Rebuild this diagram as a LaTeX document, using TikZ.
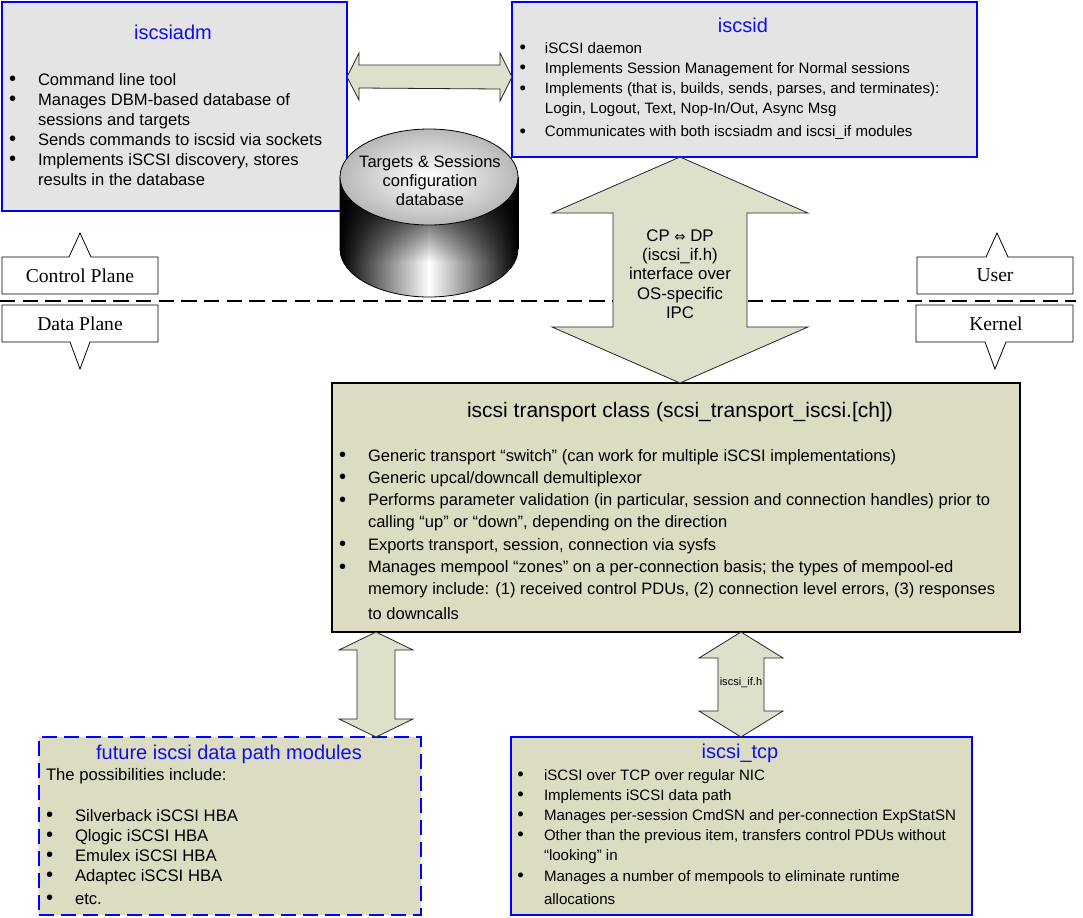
\documentclass[tikz,border=0pt]{standalone}
\usepackage{fontspec}
\setmainfont{Liberation Sans}
\newfontfamily\timesf{Liberation Serif}
\newfontfamily\djv{DejaVu Sans}
\usetikzlibrary{calc,fadings}
\definecolor{boxgray}{HTML}{E4E4E4}
\definecolor{olivefill}{HTML}{DCDCC2}
\definecolor{arrowfill}{HTML}{DDE0CB}
\definecolor{boxblue}{HTML}{0000FF}
\definecolor{titleblue}{HTML}{1010E6}
\tikzfading[name=bandfade, top color=transparent!15, bottom color=transparent!100]
\newlength\bw
\newcommand\B{\makebox[\bw][l]{\smash{\raisebox{-0.08ex}{\scalebox{1.22}{\textbullet}}}}}
\newcommand\vdarrow[5]{%
 \draw[blockarrow] (#1) -- ($(#1)+(#3,#5)$) -- ($(#1)+(#4,#5)$) -- ($(#2)+(#4,-#5)$) -- ($(#2)+(#3,-#5)$) -- (#2) -- ($(#2)+(-#3,-#5)$) -- ($(#2)+(-#4,-#5)$) -- ($(#1)+(-#4,#5)$) -- ($(#1)+(-#3,#5)$) -- cycle;}
\begin{document}
\begin{tikzpicture}[x=0.75pt,y=-0.75pt,
  graybox/.style={draw=boxblue, line width=1.4pt, fill=boxgray, anchor=north west, inner sep=0, outer sep=0},
  olivebox/.style={draw=black, line width=1.6pt, fill=olivefill, anchor=north west, inner sep=0, outer sep=0},
  futurebox/.style={draw=boxblue, line width=1.5pt, dash pattern=on 11pt off 5.5pt, fill=olivefill, anchor=north west, inner sep=0, outer sep=0},
  tcpbox/.style={draw=boxblue, line width=1.4pt, fill=olivefill, anchor=north west, inner sep=0, outer sep=0},
  txt/.style={inner sep=0, outer sep=0, anchor=base west, align=left},
  boxtitle/.style={inner sep=0, outer sep=0, anchor=base, text=titleblue, font=\fontsize{15pt}{18pt}\selectfont},
  blockarrow/.style={draw=black!85, line width=0.6pt, fill=arrowfill, line join=miter},
  planebox/.style={draw=black, line width=0.6pt, fill=white},
  seriftext/.style={inner sep=0, outer sep=0, anchor=base, font=\timesf\fontsize{14.7pt}{17pt}\selectfont},
  planeline/.style={line width=1.6pt, dash pattern=on 11.5pt off 5.5pt}
]
\useasboundingbox (0,0) rectangle (1083,918);
\fill[white] (0,0) rectangle (1083,918);

% iscsiadm box
\node[graybox, minimum width=258.75pt, minimum height=156.75pt] (adm) at (2,2) {};
\node[boxtitle] (admT) at (173,39) {iscsiadm};
\node[txt, font=\fontsize{12.45pt}{15pt}\selectfont] (admL) at (9,85) {\setlength\bw{21.75pt}\begin{tabular}[t]{@{}l@{}l@{}}
\B & Command line tool\\
\B & Manages DBM-based database of\\
 & sessions and targets\\
\B & Sends commands to iscsid via sockets\\
\B & Implements iSCSI discovery, stores\\
 & results in the database
\end{tabular}};

% iscsid box
\node[graybox, minimum width=348.75pt, minimum height=116.25pt] (iscsid) at (512,2) {};
\node[boxtitle] (iscsidT) at (743,32) {iscsid};
\node[txt, font=\fontsize{11.3pt}{15.2pt}\selectfont] (iscsidL) at (519.5,53) {\setlength\bw{19.1pt}\begin{tabular}[t]{@{}l@{}l@{}}
\B & iSCSI daemon\\
\B & Implements Session Management for Normal sessions\\
\B & Implements (that is, builds, sends, parses, and terminates):\\
 & Login, Logout, Text, Nop-In/Out, Async Msg\\[1.9pt]
\B & Communicates with both iscsiadm and iscsi\_if modules
\end{tabular}};

% horizontal double arrow
\coordinate (hzY) at (0,77);
\coordinate (hzL) at (adm.east |- hzY);
\coordinate (hzR) at (iscsid.west |- hzY);
\draw[blockarrow] (hzL) -- ++(12,-24) -- ++(0,12) -- ($(hzR)+(-12,-12)$) -- ++(0,-12) -- (hzR) -- ++(-12,24) -- ++(0,-12) -- ($(hzL)+(12,11)$) -- ++(0,12) -- cycle;

% dashed plane line
\coordinate (dL) at (0,301);
\coordinate (dR) at (1076,301);
\draw[planeline] (dL) -- (dR);

% cylinder
\shadedraw[left color=black, right color=black, middle color=white, draw=black, line width=0.6pt]
  (340,177) -- (340,249) .. controls (340,275.5) and (379.8,297) .. (429,297)
  .. controls (478.2,297) and (518,275.5) .. (518,249) -- (518,177) -- cycle;
\fill[black, path fading=bandfade] (340.4,200) rectangle (517.6,262);
\draw[black, line width=0.6pt] (340,177) -- (340,249) (518,177) -- (518,249);
\shadedraw[inner color=white, outer color=black!28, draw=black, line width=0.6pt] (429,177) ellipse [x radius=89, y radius=48];
\node[inner sep=0, outer sep=0, anchor=base, font=\fontsize{12.4pt}{14.6pt}\selectfont] (db) at (430,167)
  {\begin{tabular}[t]{@{}c@{}}Targets \& Sessions\\configuration\\database\end{tabular}};

% transport box
\node[olivebox, minimum width=516pt, minimum height=186.75pt] (trans) at (332,383) {};
\node[boxtitle, text=black, font=\fontsize{15.75pt}{18pt}\selectfont] (transT) at (680,417) {iscsi transport class (scsi\_transport\_iscsi.[ch])};
\node[txt, font=\fontsize{12.4pt}{16.7pt}\selectfont] (transL) at (339,461) {\setlength\bw{21.75pt}\begin{tabular}[t]{@{}l@{}l@{}}
\B & Generic transport “switch” (can work for multiple iSCSI implementations)\\
\B & Generic upcal/downcall demultiplexor\\
\B & Performs parameter validation (in particular, session and connection handles) prior to\\
 & calling “up” or “down”, depending on the direction\\
\B & Exports transport, session, connection via sysfs\\
\B & Manages mempool “zones” on a per-connection basis; the types of mempool-ed\\
 & memory include: (1) received control PDUs, (2) connection level errors, (3) responses\\[2.25pt]
 & to downcalls
\end{tabular}};

% CP <-> DP arrow
\coordinate (cpX) at (680,0);
\coordinate (cpT) at (cpX |- iscsid.south);
\coordinate (cpB) at (cpX |- trans.north);
\vdarrow{cpT}{cpB}{128}{67}{56}
\node[inner sep=0, outer sep=0, anchor=base, font=\fontsize{12.6pt}{14.6pt}\selectfont] (cpl) at (680,241)
  {\begin{tabular}[t]{@{}c@{}}CP {\djv\fontsize{10pt}{12pt}\selectfont ⇔} DP\\(iscsi\_if.h)\\interface over\\OS-specific\\IPC\end{tabular}};

% plane / space callouts
\draw[planebox] (2,257) -- (69,257) -- (80,233) -- (91,257) -- (158,257) -- (158,294) -- (2,294) -- cycle;
\node[seriftext] (cpn) at (80,282) {Control Plane};
\draw[planebox] (2,305) -- (158,305) -- (158,342) -- (90,342) -- (80,369) -- (70,342) -- (2,342) -- cycle;
\node[seriftext] (dpn) at (80,330) {Data Plane};
\draw[planebox] (917,257) -- (986,257) -- (997,233) -- (1008,257) -- (1073,257) -- (1073,294) -- (917,294) -- cycle;
\node[seriftext] (usern) at (995,281) {User};
\draw[planebox] (916,305) -- (1073,305) -- (1073,342) -- (1006,342) -- (995,369) -- (985,342) -- (916,342) -- cycle;
\node[seriftext] (kerneln) at (996,330) {Kernel};

% future box
\node[futurebox, minimum width=286.5pt, minimum height=133.5pt] (future) at (39,737) {};
\node[boxtitle] (futureT) at (229,759) {future iscsi data path modules};
\node[txt, font=\fontsize{12.5pt}{15pt}\selectfont] (futureL) at (46,780) {\setlength\bw{21.75pt}\begin{tabular}[t]{@{}l@{}l@{}}
\multicolumn{2}{@{}l@{}}{The possibilities include:}\\
 & \\[0.75pt]
\B & Silverback iSCSI HBA\\
\B & Qlogic iSCSI HBA\\
\B & Emulex iSCSI HBA\\
\B & Adaptec iSCSI HBA\\[2.25pt]
\B & etc.
\end{tabular}};

% iscsi_tcp box
\node[tcpbox, minimum width=345.75pt, minimum height=133.5pt] (tcp) at (511,737) {};
\node[boxtitle] (tcpT) at (740,758) {iscsi\_tcp};
\node[txt, font=\fontsize{11.3pt}{15pt}\selectfont] (tcpL) at (517.4,780) {\setlength\bw{19.95pt}\begin{tabular}[t]{@{}l@{}l@{}}
\B & iSCSI over TCP over regular NIC\\
\B & Implements iSCSI data path\\
\B & Manages per-session CmdSN and per-connection ExpStatSN\\
\B & Other than the previous item, transfers control PDUs without\\
 & “looking” in\\[0.75pt]
\B & Manages a number of mempools to eliminate runtime\\[2.25pt]
 & allocations
\end{tabular}};

% small vertical arrows
\coordinate (laX) at (376,0);
\coordinate (laT) at (laX |- trans.south);
\coordinate (laB) at (laX |- future.north);
\vdarrow{laT}{laB}{37}{19}{18}
\coordinate (raX) at (741,0);
\coordinate (raT) at (raX |- trans.south);
\coordinate (raB) at (raX |- tcp.north);
\vdarrow{raT}{raB}{42}{23}{26}
\node[inner sep=0, outer sep=0, font=\fontsize{8.3pt}{10pt}\selectfont] (ifh) at (741,683) {iscsi\_if.h};
\end{tikzpicture}
\end{document}
